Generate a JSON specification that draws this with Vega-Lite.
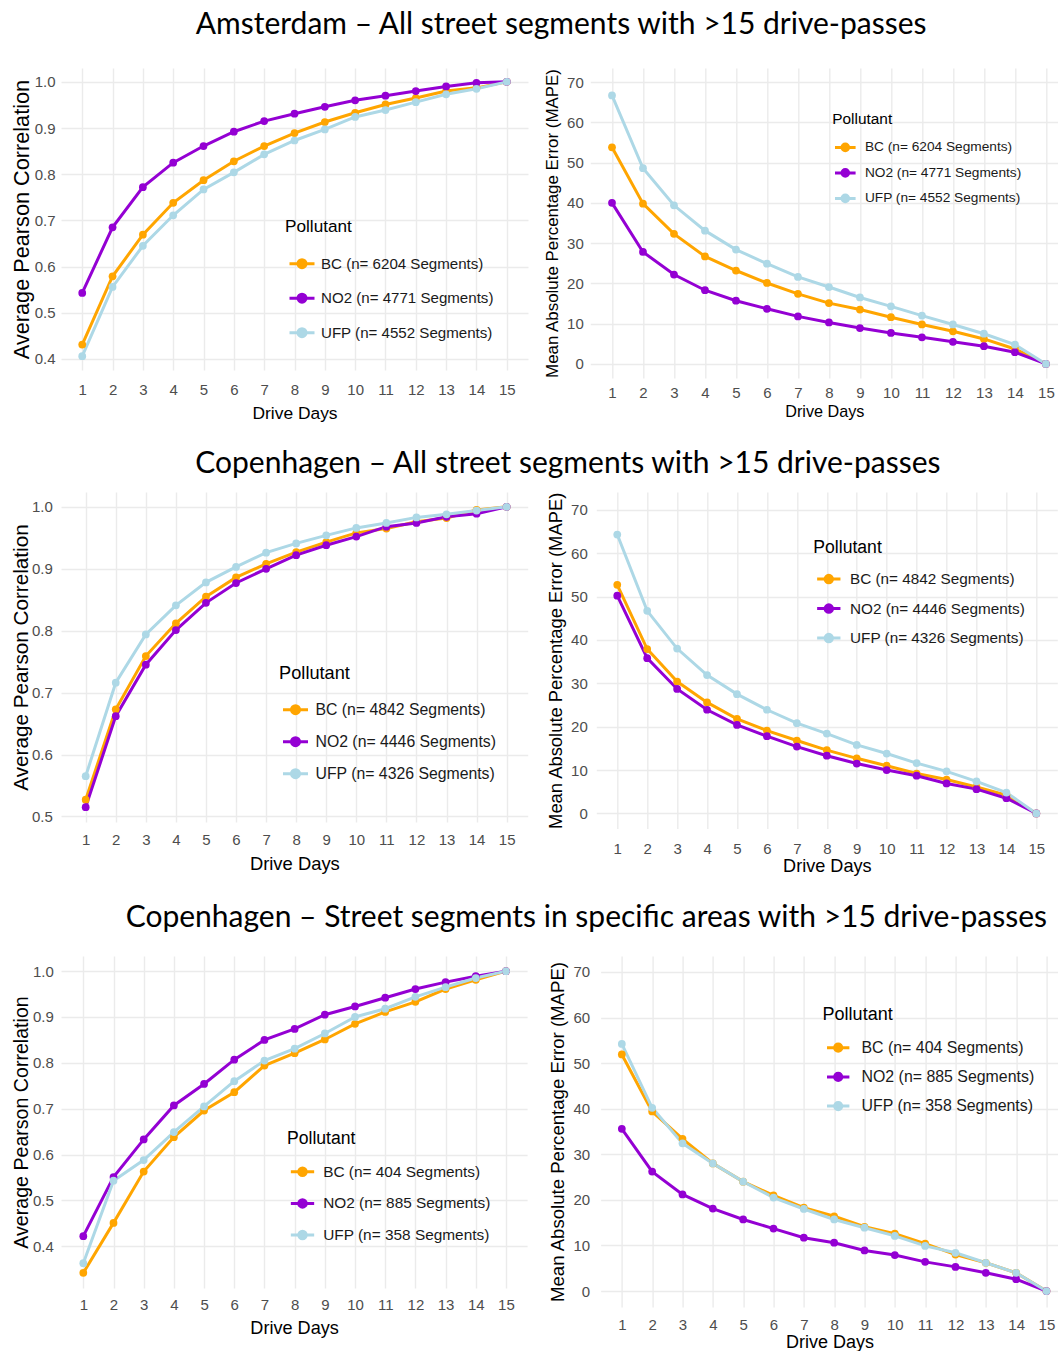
{
"$schema": "https://vega.github.io/schema/vega-lite/v6.json",
"padding": {"left": 10, "top": 10, "right": 0, "bottom": 0},
"background": "white",
"data": {"values": [
{"p":1,"g":"BC","x":1,"y":0.431},{"p":1,"g":"BC","x":2,"y":0.579},{"p":1,"g":"BC","x":3,"y":0.669},{"p":1,"g":"BC","x":4,"y":0.738},{"p":1,"g":"BC","x":5,"y":0.787},{"p":1,"g":"BC","x":6,"y":0.828},{"p":1,"g":"BC","x":7,"y":0.861},{"p":1,"g":"BC","x":8,"y":0.889},{"p":1,"g":"BC","x":9,"y":0.913},{"p":1,"g":"BC","x":10,"y":0.933},{"p":1,"g":"BC","x":11,"y":0.951},{"p":1,"g":"BC","x":12,"y":0.965},{"p":1,"g":"BC","x":13,"y":0.98},{"p":1,"g":"BC","x":14,"y":0.987},{"p":1,"g":"BC","x":15,"y":1.0},
{"p":1,"g":"NO2","x":1,"y":0.543},{"p":1,"g":"NO2","x":2,"y":0.685},{"p":1,"g":"NO2","x":3,"y":0.772},{"p":1,"g":"NO2","x":4,"y":0.825},{"p":1,"g":"NO2","x":5,"y":0.861},{"p":1,"g":"NO2","x":6,"y":0.892},{"p":1,"g":"NO2","x":7,"y":0.915},{"p":1,"g":"NO2","x":8,"y":0.931},{"p":1,"g":"NO2","x":9,"y":0.946},{"p":1,"g":"NO2","x":10,"y":0.96},{"p":1,"g":"NO2","x":11,"y":0.97},{"p":1,"g":"NO2","x":12,"y":0.98},{"p":1,"g":"NO2","x":13,"y":0.99},{"p":1,"g":"NO2","x":14,"y":0.998},{"p":1,"g":"NO2","x":15,"y":1.0},
{"p":1,"g":"UFP","x":1,"y":0.406},{"p":1,"g":"UFP","x":2,"y":0.556},{"p":1,"g":"UFP","x":3,"y":0.645},{"p":1,"g":"UFP","x":4,"y":0.711},{"p":1,"g":"UFP","x":5,"y":0.767},{"p":1,"g":"UFP","x":6,"y":0.804},{"p":1,"g":"UFP","x":7,"y":0.843},{"p":1,"g":"UFP","x":8,"y":0.873},{"p":1,"g":"UFP","x":9,"y":0.897},{"p":1,"g":"UFP","x":10,"y":0.924},{"p":1,"g":"UFP","x":11,"y":0.939},{"p":1,"g":"UFP","x":12,"y":0.956},{"p":1,"g":"UFP","x":13,"y":0.973},{"p":1,"g":"UFP","x":14,"y":0.985},{"p":1,"g":"UFP","x":15,"y":1.0},
{"p":2,"g":"BC","x":1,"y":53.8},{"p":2,"g":"BC","x":2,"y":39.8},{"p":2,"g":"BC","x":3,"y":32.3},{"p":2,"g":"BC","x":4,"y":26.7},{"p":2,"g":"BC","x":5,"y":23.2},{"p":2,"g":"BC","x":6,"y":20.1},{"p":2,"g":"BC","x":7,"y":17.4},{"p":2,"g":"BC","x":8,"y":15.1},{"p":2,"g":"BC","x":9,"y":13.5},{"p":2,"g":"BC","x":10,"y":11.6},{"p":2,"g":"BC","x":11,"y":9.8},{"p":2,"g":"BC","x":12,"y":8.1},{"p":2,"g":"BC","x":13,"y":6.2},{"p":2,"g":"BC","x":14,"y":3.7},{"p":2,"g":"BC","x":15,"y":0},
{"p":2,"g":"NO2","x":1,"y":40.0},{"p":2,"g":"NO2","x":2,"y":27.8},{"p":2,"g":"NO2","x":3,"y":22.2},{"p":2,"g":"NO2","x":4,"y":18.3},{"p":2,"g":"NO2","x":5,"y":15.7},{"p":2,"g":"NO2","x":6,"y":13.7},{"p":2,"g":"NO2","x":7,"y":11.8},{"p":2,"g":"NO2","x":8,"y":10.3},{"p":2,"g":"NO2","x":9,"y":8.9},{"p":2,"g":"NO2","x":10,"y":7.7},{"p":2,"g":"NO2","x":11,"y":6.6},{"p":2,"g":"NO2","x":12,"y":5.5},{"p":2,"g":"NO2","x":13,"y":4.4},{"p":2,"g":"NO2","x":14,"y":2.9},{"p":2,"g":"NO2","x":15,"y":0},
{"p":2,"g":"UFP","x":1,"y":66.7},{"p":2,"g":"UFP","x":2,"y":48.6},{"p":2,"g":"UFP","x":3,"y":39.4},{"p":2,"g":"UFP","x":4,"y":33.1},{"p":2,"g":"UFP","x":5,"y":28.4},{"p":2,"g":"UFP","x":6,"y":24.9},{"p":2,"g":"UFP","x":7,"y":21.6},{"p":2,"g":"UFP","x":8,"y":19.1},{"p":2,"g":"UFP","x":9,"y":16.5},{"p":2,"g":"UFP","x":10,"y":14.3},{"p":2,"g":"UFP","x":11,"y":12.0},{"p":2,"g":"UFP","x":12,"y":9.8},{"p":2,"g":"UFP","x":13,"y":7.5},{"p":2,"g":"UFP","x":14,"y":4.8},{"p":2,"g":"UFP","x":15,"y":0},
{"p":3,"g":"BC","x":1,"y":0.527},{"p":3,"g":"BC","x":2,"y":0.673},{"p":3,"g":"BC","x":3,"y":0.759},{"p":3,"g":"BC","x":4,"y":0.812},{"p":3,"g":"BC","x":5,"y":0.855},{"p":3,"g":"BC","x":6,"y":0.886},{"p":3,"g":"BC","x":7,"y":0.908},{"p":3,"g":"BC","x":8,"y":0.927},{"p":3,"g":"BC","x":9,"y":0.943},{"p":3,"g":"BC","x":10,"y":0.958},{"p":3,"g":"BC","x":11,"y":0.965},{"p":3,"g":"BC","x":12,"y":0.976},{"p":3,"g":"BC","x":13,"y":0.982},{"p":3,"g":"BC","x":14,"y":0.995},{"p":3,"g":"BC","x":15,"y":1.0},
{"p":3,"g":"NO2","x":1,"y":0.515},{"p":3,"g":"NO2","x":2,"y":0.662},{"p":3,"g":"NO2","x":3,"y":0.745},{"p":3,"g":"NO2","x":4,"y":0.801},{"p":3,"g":"NO2","x":5,"y":0.845},{"p":3,"g":"NO2","x":6,"y":0.877},{"p":3,"g":"NO2","x":7,"y":0.9},{"p":3,"g":"NO2","x":8,"y":0.922},{"p":3,"g":"NO2","x":9,"y":0.938},{"p":3,"g":"NO2","x":10,"y":0.952},{"p":3,"g":"NO2","x":11,"y":0.968},{"p":3,"g":"NO2","x":12,"y":0.974},{"p":3,"g":"NO2","x":13,"y":0.984},{"p":3,"g":"NO2","x":14,"y":0.989},{"p":3,"g":"NO2","x":15,"y":1.0},
{"p":3,"g":"UFP","x":1,"y":0.565},{"p":3,"g":"UFP","x":2,"y":0.716},{"p":3,"g":"UFP","x":3,"y":0.794},{"p":3,"g":"UFP","x":4,"y":0.841},{"p":3,"g":"UFP","x":5,"y":0.878},{"p":3,"g":"UFP","x":6,"y":0.903},{"p":3,"g":"UFP","x":7,"y":0.926},{"p":3,"g":"UFP","x":8,"y":0.941},{"p":3,"g":"UFP","x":9,"y":0.954},{"p":3,"g":"UFP","x":10,"y":0.966},{"p":3,"g":"UFP","x":11,"y":0.974},{"p":3,"g":"UFP","x":12,"y":0.983},{"p":3,"g":"UFP","x":13,"y":0.988},{"p":3,"g":"UFP","x":14,"y":0.994},{"p":3,"g":"UFP","x":15,"y":1.0},
{"p":4,"g":"BC","x":1,"y":52.7},{"p":4,"g":"BC","x":2,"y":37.9},{"p":4,"g":"BC","x":3,"y":30.4},{"p":4,"g":"BC","x":4,"y":25.6},{"p":4,"g":"BC","x":5,"y":21.8},{"p":4,"g":"BC","x":6,"y":19.1},{"p":4,"g":"BC","x":7,"y":16.8},{"p":4,"g":"BC","x":8,"y":14.6},{"p":4,"g":"BC","x":9,"y":12.7},{"p":4,"g":"BC","x":10,"y":11.0},{"p":4,"g":"BC","x":11,"y":9.2},{"p":4,"g":"BC","x":12,"y":7.8},{"p":4,"g":"BC","x":13,"y":6.1},{"p":4,"g":"BC","x":14,"y":4.2},{"p":4,"g":"BC","x":15,"y":0},
{"p":4,"g":"NO2","x":1,"y":50.2},{"p":4,"g":"NO2","x":2,"y":35.8},{"p":4,"g":"NO2","x":3,"y":28.7},{"p":4,"g":"NO2","x":4,"y":23.9},{"p":4,"g":"NO2","x":5,"y":20.4},{"p":4,"g":"NO2","x":6,"y":17.8},{"p":4,"g":"NO2","x":7,"y":15.4},{"p":4,"g":"NO2","x":8,"y":13.3},{"p":4,"g":"NO2","x":9,"y":11.5},{"p":4,"g":"NO2","x":10,"y":10.0},{"p":4,"g":"NO2","x":11,"y":8.7},{"p":4,"g":"NO2","x":12,"y":6.9},{"p":4,"g":"NO2","x":13,"y":5.6},{"p":4,"g":"NO2","x":14,"y":3.5},{"p":4,"g":"NO2","x":15,"y":0},
{"p":4,"g":"UFP","x":1,"y":64.3},{"p":4,"g":"UFP","x":2,"y":46.7},{"p":4,"g":"UFP","x":3,"y":38.0},{"p":4,"g":"UFP","x":4,"y":31.9},{"p":4,"g":"UFP","x":5,"y":27.5},{"p":4,"g":"UFP","x":6,"y":23.9},{"p":4,"g":"UFP","x":7,"y":20.8},{"p":4,"g":"UFP","x":8,"y":18.4},{"p":4,"g":"UFP","x":9,"y":15.8},{"p":4,"g":"UFP","x":10,"y":13.8},{"p":4,"g":"UFP","x":11,"y":11.6},{"p":4,"g":"UFP","x":12,"y":9.7},{"p":4,"g":"UFP","x":13,"y":7.4},{"p":4,"g":"UFP","x":14,"y":4.8},{"p":4,"g":"UFP","x":15,"y":0},
{"p":5,"g":"BC","x":1,"y":0.342},{"p":5,"g":"BC","x":2,"y":0.451},{"p":5,"g":"BC","x":3,"y":0.563},{"p":5,"g":"BC","x":4,"y":0.638},{"p":5,"g":"BC","x":5,"y":0.696},{"p":5,"g":"BC","x":6,"y":0.736},{"p":5,"g":"BC","x":7,"y":0.794},{"p":5,"g":"BC","x":8,"y":0.821},{"p":5,"g":"BC","x":9,"y":0.851},{"p":5,"g":"BC","x":10,"y":0.885},{"p":5,"g":"BC","x":11,"y":0.911},{"p":5,"g":"BC","x":12,"y":0.933},{"p":5,"g":"BC","x":13,"y":0.961},{"p":5,"g":"BC","x":14,"y":0.981},{"p":5,"g":"BC","x":15,"y":1.0},
{"p":5,"g":"NO2","x":1,"y":0.422},{"p":5,"g":"NO2","x":2,"y":0.551},{"p":5,"g":"NO2","x":3,"y":0.633},{"p":5,"g":"NO2","x":4,"y":0.707},{"p":5,"g":"NO2","x":5,"y":0.754},{"p":5,"g":"NO2","x":6,"y":0.807},{"p":5,"g":"NO2","x":7,"y":0.85},{"p":5,"g":"NO2","x":8,"y":0.874},{"p":5,"g":"NO2","x":9,"y":0.905},{"p":5,"g":"NO2","x":10,"y":0.923},{"p":5,"g":"NO2","x":11,"y":0.942},{"p":5,"g":"NO2","x":12,"y":0.961},{"p":5,"g":"NO2","x":13,"y":0.976},{"p":5,"g":"NO2","x":14,"y":0.989},{"p":5,"g":"NO2","x":15,"y":1.0},
{"p":5,"g":"UFP","x":1,"y":0.363},{"p":5,"g":"UFP","x":2,"y":0.543},{"p":5,"g":"UFP","x":3,"y":0.588},{"p":5,"g":"UFP","x":4,"y":0.649},{"p":5,"g":"UFP","x":5,"y":0.705},{"p":5,"g":"UFP","x":6,"y":0.76},{"p":5,"g":"UFP","x":7,"y":0.805},{"p":5,"g":"UFP","x":8,"y":0.831},{"p":5,"g":"UFP","x":9,"y":0.864},{"p":5,"g":"UFP","x":10,"y":0.9},{"p":5,"g":"UFP","x":11,"y":0.918},{"p":5,"g":"UFP","x":12,"y":0.944},{"p":5,"g":"UFP","x":13,"y":0.965},{"p":5,"g":"UFP","x":14,"y":0.985},{"p":5,"g":"UFP","x":15,"y":1.0},
{"p":6,"g":"BC","x":1,"y":51.9},{"p":6,"g":"BC","x":2,"y":39.4},{"p":6,"g":"BC","x":3,"y":33.4},{"p":6,"g":"BC","x":4,"y":28.0},{"p":6,"g":"BC","x":5,"y":24.0},{"p":6,"g":"BC","x":6,"y":21.0},{"p":6,"g":"BC","x":7,"y":18.3},{"p":6,"g":"BC","x":8,"y":16.4},{"p":6,"g":"BC","x":9,"y":14.1},{"p":6,"g":"BC","x":10,"y":12.6},{"p":6,"g":"BC","x":11,"y":10.4},{"p":6,"g":"BC","x":12,"y":8.0},{"p":6,"g":"BC","x":13,"y":6.2},{"p":6,"g":"BC","x":14,"y":4.0},{"p":6,"g":"BC","x":15,"y":0},
{"p":6,"g":"NO2","x":1,"y":35.6},{"p":6,"g":"NO2","x":2,"y":26.2},{"p":6,"g":"NO2","x":3,"y":21.2},{"p":6,"g":"NO2","x":4,"y":18.1},{"p":6,"g":"NO2","x":5,"y":15.7},{"p":6,"g":"NO2","x":6,"y":13.7},{"p":6,"g":"NO2","x":7,"y":11.7},{"p":6,"g":"NO2","x":8,"y":10.6},{"p":6,"g":"NO2","x":9,"y":8.9},{"p":6,"g":"NO2","x":10,"y":7.9},{"p":6,"g":"NO2","x":11,"y":6.4},{"p":6,"g":"NO2","x":12,"y":5.3},{"p":6,"g":"NO2","x":13,"y":4.0},{"p":6,"g":"NO2","x":14,"y":2.6},{"p":6,"g":"NO2","x":15,"y":0},
{"p":6,"g":"UFP","x":1,"y":54.2},{"p":6,"g":"UFP","x":2,"y":40.2},{"p":6,"g":"UFP","x":3,"y":32.4},{"p":6,"g":"UFP","x":4,"y":28.0},{"p":6,"g":"UFP","x":5,"y":24.0},{"p":6,"g":"UFP","x":6,"y":20.5},{"p":6,"g":"UFP","x":7,"y":18.0},{"p":6,"g":"UFP","x":8,"y":15.7},{"p":6,"g":"UFP","x":9,"y":13.9},{"p":6,"g":"UFP","x":10,"y":12.1},{"p":6,"g":"UFP","x":11,"y":9.9},{"p":6,"g":"UFP","x":12,"y":8.4},{"p":6,"g":"UFP","x":13,"y":6.2},{"p":6,"g":"UFP","x":14,"y":4.0},{"p":6,"g":"UFP","x":15,"y":0}
]},
"spacing": 27,
"resolve": {"scale": {"x": "independent", "y": "independent", "color": "independent"}, "axis": {"x": "independent", "y": "independent"}, "legend": {"color": "independent"}},
"vconcat": [
 {
  "title": {"text": "Amsterdam – All street segments with >15 drive-passes", "dx": 26.5, "offset": 28},
  "spacing": 15.3,
  "resolve": {"scale": {"x": "independent", "y": "independent", "color": "independent"}, "axis": {"x": "independent", "y": "independent"}, "legend": {"color": "independent"}},
  "hconcat": [
   {
    "width": 467, "height": 302,
    "transform": [{"filter": "datum.p == 1"}],
    "encoding": {
     "x": {"field": "x", "type": "quantitative", "scale": {"domain": [0.3, 15.7], "nice": false, "zero": false}, "axis": {"values": [1,2,3,4,5,6,7,8,9,10,11,12,13,14,15], "format": "d", "title": "Drive Days", "labelPadding": 12, "titleFontSize": 17.4, "titlePadding": 7.5}},
     "y": {"field": "y", "type": "quantitative", "scale": {"domain": [0.376, 1.03], "nice": false, "zero": false}, "axis": {"values": [0.4,0.5,0.6,0.7,0.8,0.9,1.0], "format": ".1f", "title": "Average Pearson Correlation", "labelPadding": 6, "titleFontSize": 21.7, "titlePadding": 1.1}},
     "color": {"field": "g", "type": "nominal", "scale": {"domain": ["BC","NO2","UFP"], "range": ["#FFA500","#9400D3","#ADD8E6"]},
      "legend": {"title": "Pollutant", "legendX": 224, "legendY": 150, "titleFontSize": 17.2, "labelFontSize": 15.1, "symbolSize": 625, "rowPadding": 10.5, "titlePadding": 14.5, "labelOffset": 5, "symbolOffset": 3,
       "labelExpr": "datum.label == 'BC' ? 'BC (n= 6204 Segments)' : datum.label == 'NO2' ? 'NO2 (n= 4771 Segments)' : 'UFP (n= 4552 Segments)'"}}
    },
    "layer": [{"mark": {"type": "line", "strokeWidth": 3}}, {"mark": {"type": "point", "filled": true, "size": 60, "opacity": 1}}]
   },
   {
    "width": 468, "height": 310,
    "transform": [{"filter": "datum.p == 2"}],
    "encoding": {
     "x": {"field": "x", "type": "quantitative", "scale": {"domain": [0.3, 15.4], "nice": false, "zero": false}, "axis": {"values": [1,2,3,4,5,6,7,8,9,10,11,12,13,14,15], "format": "d", "title": "Drive Days", "labelPadding": 7, "titleFontSize": 16.2, "titlePadding": 3}},
     "y": {"field": "y", "type": "quantitative", "scale": {"domain": [-3.5, 73.5], "nice": false, "zero": false}, "axis": {"values": [0,10,20,30,40,50,60,70], "format": "d", "title": "Mean Absolute Percentage Error (MAPE)", "labelPadding": 7, "titleFontSize": 16.9, "titlePadding": 5}},
     "color": {"field": "g", "type": "nominal", "scale": {"domain": ["BC","NO2","UFP"], "range": ["#FFA500","#9400D3","#ADD8E6"]},
      "legend": {"title": "Pollutant", "legendX": 242, "legendY": 44, "titleFontSize": 15.4, "labelFontSize": 13.7, "symbolSize": 424, "rowPadding": 3.5, "titlePadding": 8, "labelOffset": 7.6, "symbolOffset": 1,
       "labelExpr": "datum.label == 'BC' ? 'BC (n= 6204 Segments)' : datum.label == 'NO2' ? 'NO2 (n= 4771 Segments)' : 'UFP (n= 4552 Segments)'"}}
    },
    "layer": [{"mark": {"type": "line", "strokeWidth": 3}}, {"mark": {"type": "point", "filled": true, "size": 60, "opacity": 1}}]
   }
  ]
 },
 {
  "title": {"text": "Copenhagen – All street segments with >15 drive-passes", "dx": 34, "offset": 12.6},
  "spacing": 18.3,
  "resolve": {"scale": {"x": "independent", "y": "independent", "color": "independent"}, "axis": {"x": "independent", "y": "independent"}, "legend": {"color": "independent"}},
  "hconcat": [
   {
    "width": 466.7, "height": 330,
    "transform": [{"filter": "datum.p == 3"}],
    "encoding": {
     "x": {"field": "x", "type": "quantitative", "scale": {"domain": [0.179, 15.7], "nice": false, "zero": false}, "axis": {"values": [1,2,3,4,5,6,7,8,9,10,11,12,13,14,15], "format": "d", "title": "Drive Days", "labelPadding": 10, "titleFontSize": 18.4, "titlePadding": 7.7}},
     "y": {"field": "y", "type": "quantitative", "scale": {"domain": [0.491, 1.024], "nice": false, "zero": false}, "axis": {"values": [0.5,0.6,0.7,0.8,0.9,1.0], "format": ".1f", "title": "Average Pearson Correlation", "labelPadding": 8.7, "titleFontSize": 20.7, "titlePadding": -0.1}},
     "color": {"field": "g", "type": "nominal", "scale": {"domain": ["BC","NO2","UFP"], "range": ["#FFA500","#9400D3","#ADD8E6"]},
      "legend": {"title": "Pollutant", "legendX": 218.1, "legendY": 173, "titleFontSize": 18.2, "labelFontSize": 15.8, "symbolSize": 625, "rowPadding": 8, "titlePadding": 12.5, "labelOffset": 6, "symbolOffset": 2.4,
       "labelExpr": "datum.label == 'BC' ? 'BC (n= 4842 Segments)' : datum.label == 'NO2' ? 'NO2 (n= 4446 Segments)' : 'UFP (n= 4326 Segments)'"}}
    },
    "layer": [{"mark": {"type": "line", "strokeWidth": 3}}, {"mark": {"type": "point", "filled": true, "size": 60, "opacity": 1}}]
   },
   {
    "width": 461, "height": 336.6,
    "transform": [{"filter": "datum.p == 4"}],
    "encoding": {
     "x": {"field": "x", "type": "quantitative", "scale": {"domain": [0.3, 15.7], "nice": false, "zero": false}, "axis": {"values": [1,2,3,4,5,6,7,8,9,10,11,12,13,14,15], "format": "d", "title": "Drive Days", "labelPadding": 12.5, "titleFontSize": 18.1, "titlePadding": 1}},
     "y": {"field": "y", "type": "quantitative", "scale": {"domain": [-3.5, 74.1], "nice": false, "zero": false}, "axis": {"values": [0,10,20,30,40,50,60,70], "format": "d", "title": "Mean Absolute Percentage Error (MAPE)", "labelPadding": 9, "titleFontSize": 18.4, "titlePadding": 5}},
     "color": {"field": "g", "type": "nominal", "scale": {"domain": ["BC","NO2","UFP"], "range": ["#FFA500","#9400D3","#ADD8E6"]},
      "legend": {"title": "Pollutant", "legendX": 217, "legendY": 47, "titleFontSize": 17.6, "labelFontSize": 15.3, "symbolSize": 544, "rowPadding": 5.5, "titlePadding": 9, "labelOffset": 7.7, "symbolOffset": 2,
       "labelExpr": "datum.label == 'BC' ? 'BC (n= 4842 Segments)' : datum.label == 'NO2' ? 'NO2 (n= 4446 Segments)' : 'UFP (n= 4326 Segments)'"}}
    },
    "layer": [{"mark": {"type": "line", "strokeWidth": 3}}, {"mark": {"type": "point", "filled": true, "size": 60, "opacity": 1}}]
   }
  ]
 },
 {
  "title": {"text": "Copenhagen – Street segments in specific areas with >15 drive-passes", "dx": 51.5, "offset": 23},
  "spacing": 20.6,
  "resolve": {"scale": {"x": "independent", "y": "independent", "color": "independent"}, "axis": {"x": "independent", "y": "independent"}, "legend": {"color": "independent"}},
  "hconcat": [
   {
    "width": 466.1, "height": 332,
    "transform": [{"filter": "datum.p == 5"}],
    "encoding": {
     "x": {"field": "x", "type": "quantitative", "scale": {"domain": [0.261, 15.7], "nice": false, "zero": false}, "axis": {"values": [1,2,3,4,5,6,7,8,9,10,11,12,13,14,15], "format": "d", "title": "Drive Days", "labelPadding": 9.7, "titleFontSize": 18.1, "titlePadding": 7}},
     "y": {"field": "y", "type": "quantitative", "scale": {"domain": [0.309, 1.033], "nice": false, "zero": false}, "axis": {"values": [0.4,0.5,0.6,0.7,0.8,0.9,1.0], "format": ".1f", "title": "Average Pearson Correlation", "labelPadding": 7.7, "titleFontSize": 19.6, "titlePadding": 1.3}},
     "color": {"field": "g", "type": "nominal", "scale": {"domain": ["BC","NO2","UFP"], "range": ["#FFA500","#9400D3","#ADD8E6"]},
      "legend": {"title": "Pollutant", "legendX": 226, "legendY": 174, "titleFontSize": 17.6, "labelFontSize": 15.4, "symbolSize": 544, "rowPadding": 7.6, "titlePadding": 10.7, "labelOffset": 7.2, "symbolOffset": 2,
       "labelExpr": "datum.label == 'BC' ? 'BC (n= 404 Segments)' : datum.label == 'NO2' ? 'NO2 (n= 885 Segments)' : 'UFP (n= 358 Segments)'"}}
    },
    "layer": [{"mark": {"type": "line", "strokeWidth": 3}}, {"mark": {"type": "point", "filled": true, "size": 60, "opacity": 1}}]
   },
   {
    "width": 458, "height": 351,
    "transform": [{"filter": "datum.p == 6"}],
    "encoding": {
     "x": {"field": "x", "type": "quantitative", "scale": {"domain": [0.3, 15.4], "nice": false, "zero": false}, "axis": {"values": [1,2,3,4,5,6,7,8,9,10,11,12,13,14,15], "format": "d", "title": "Drive Days", "labelPadding": 10, "titleFontSize": 18, "titlePadding": 1}},
     "y": {"field": "y", "type": "quantitative", "scale": {"domain": [-3.5, 73.5], "nice": false, "zero": false}, "axis": {"values": [0,10,20,30,40,50,60,70], "format": "d", "title": "Mean Absolute Percentage Error (MAPE)", "labelPadding": 11, "titleFontSize": 18.6, "titlePadding": 5}},
     "color": {"field": "g", "type": "nominal", "scale": {"domain": ["BC","NO2","UFP"], "range": ["#FFA500","#9400D3","#ADD8E6"]},
      "legend": {"title": "Pollutant", "legendX": 222, "legendY": 49.5, "titleFontSize": 18, "labelFontSize": 15.9, "symbolSize": 500, "rowPadding": 6.2, "titlePadding": 11.2, "labelOffset": 10.3, "symbolOffset": 2.6,
       "labelExpr": "datum.label == 'BC' ? 'BC (n= 404 Segments)' : datum.label == 'NO2' ? 'NO2 (n= 885 Segments)' : 'UFP (n= 358 Segments)'"}}
    },
    "layer": [{"mark": {"type": "line", "strokeWidth": 3}}, {"mark": {"type": "point", "filled": true, "size": 60, "opacity": 1}}]
   }
  ]
 }
],
"config": {
 "view": {"stroke": null},
 "font": "Liberation Sans",
 "axis": {"grid": true, "gridColor": "#EBEBEB", "gridWidth": 1.4, "domain": false, "ticks": false, "tickSize": 0, "labelColor": "#4D4D4D", "labelFontSize": 15, "titleColor": "#000000", "titleFontWeight": "normal", "labelFont": "Liberation Sans", "titleFont": "Liberation Sans", "labelFlush": false, "labelOverlap": false},
 "legend": {"orient": "none", "padding": 0, "labelLimit": 500, "titleFontWeight": "normal", "titleColor": "#000000", "labelColor": "#1A1A1A", "titleFont": "Liberation Sans", "labelFont": "Liberation Sans", "symbolType": "M-1,0L1,0M-0.32,0A0.32,0.32,0,1,0,0.32,0A0.32,0.32,0,1,0,-0.32,0Z", "symbolStrokeWidth": 3, "symbolOpacity": 1},
 "title": {"font": "Lato", "fontSize": 30, "fontWeight": "normal", "color": "#000000", "anchor": "middle"}
}
}
